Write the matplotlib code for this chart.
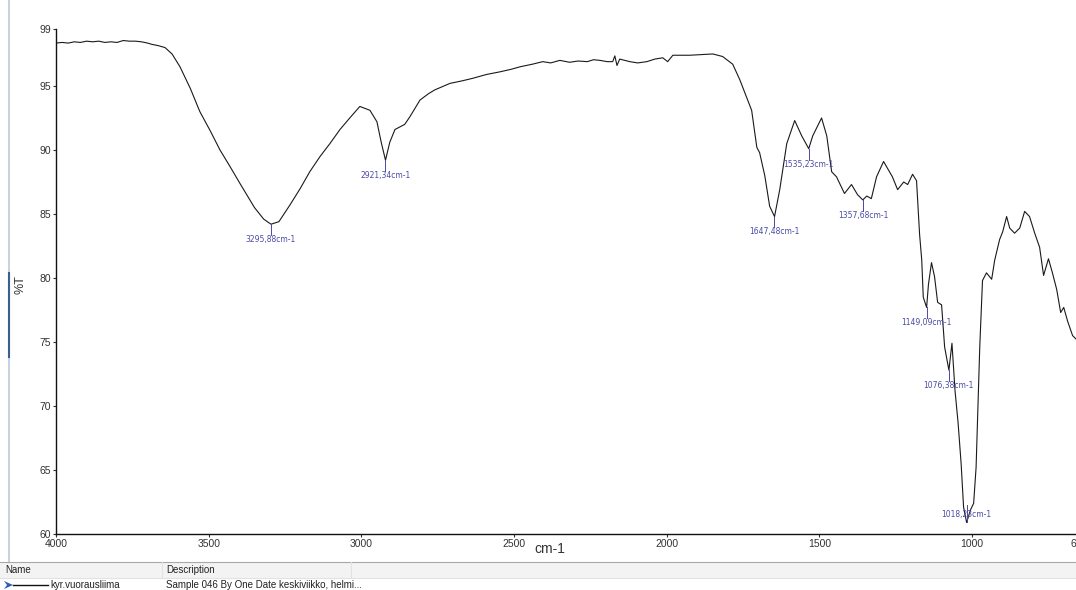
import matplotlib
matplotlib.use("Agg")
import matplotlib.pyplot as plt
from matplotlib.lines import Line2D
from matplotlib.patches import Rectangle, Polygon

# ---------------- data ----------------
wavenumber = [4000, 3980, 3960, 3940, 3920, 3900, 3880, 3860, 3840, 3820, 3800, 3780,
              3760, 3740, 3720, 3700, 3686, 3665, 3643, 3620, 3594, 3560, 3529, 3495,
              3463, 3430, 3398, 3350, 3320, 3296, 3270, 3234, 3200, 3169, 3135, 3103,
              3070, 3038, 3005, 2972, 2949, 2935, 2921, 2907, 2890, 2874, 2858, 2841,
              2808, 2780, 2759, 2710, 2670, 2635, 2590, 2547, 2510, 2480, 2440, 2406,
              2380, 2350, 2318, 2290, 2260, 2240, 2219, 2195, 2177, 2170, 2163, 2154,
              2121, 2095, 2065, 2039, 2013, 1997, 1980, 1925, 1849, 1817, 1784, 1761,
              1735, 1722, 1705, 1696, 1679, 1663, 1647, 1630, 1607, 1581, 1558, 1535,
              1522, 1493, 1476, 1460, 1444, 1418, 1395, 1375, 1358, 1345, 1330, 1313,
              1290, 1261, 1244, 1224, 1211, 1195, 1182, 1172, 1165, 1160, 1149, 1143,
              1133, 1123, 1113, 1100, 1090, 1076, 1066, 1056, 1046, 1036, 1028, 1018,
              1005, 995, 987, 975, 966, 953, 936, 926, 910, 900, 887, 877,
              861, 844, 828, 812, 795, 779, 766, 750, 737, 723, 710, 700,
              687, 671, 650]
transmittance = [98.35, 98.4, 98.35, 98.45, 98.4, 98.5, 98.45, 98.5, 98.4, 98.45, 98.4, 98.55,
                 98.5, 98.5, 98.45, 98.35, 98.25, 98.15, 98.0, 97.5, 96.5, 94.8, 93.0, 91.5,
                 90.0, 88.7, 87.4, 85.5, 84.6, 84.2, 84.4, 85.7, 87.0, 88.3, 89.5, 90.5,
                 91.6, 92.5, 93.4, 93.1, 92.2, 90.6, 89.2, 90.6, 91.6, 91.8, 92.0, 92.6,
                 93.9, 94.4, 94.7, 95.2, 95.4, 95.6, 95.9, 96.1, 96.3, 96.5, 96.7, 96.9,
                 96.8, 97.0, 96.85, 96.95, 96.9, 97.05, 97.0, 96.9, 96.9, 97.35, 96.6, 97.1,
                 96.9, 96.8, 96.9, 97.1, 97.2, 96.9, 97.4, 97.4, 97.5, 97.3, 96.7, 95.5,
                 93.9, 93.1, 90.2, 89.8, 88.0, 85.6, 84.8, 86.9, 90.5, 92.3, 91.1, 90.1,
                 91.1, 92.5, 91.1, 88.3, 87.9, 86.6, 87.3, 86.5, 86.1, 86.4, 86.2, 87.9,
                 89.1, 87.9, 86.9, 87.5, 87.3, 88.1, 87.6, 83.4, 81.4, 78.5, 77.7, 79.5,
                 81.2, 80.1, 78.1, 77.9, 74.6, 72.8, 74.9, 71.2, 68.7, 65.5, 62.1, 60.9,
                 61.9, 62.4, 65.2, 74.6, 79.8, 80.4, 79.9, 81.4, 83.0, 83.6, 84.8, 83.9,
                 83.5, 83.9, 85.2, 84.8, 83.5, 82.4, 80.2, 81.5, 80.4, 79.1, 77.3, 77.7,
                 76.6, 75.5, 75.0]

peak_wn = [3295.88, 2921.34, 1647.48, 1535.23, 1357.68, 1149.09, 1076.38, 1018.23]
peak_T = [84.2, 89.2, 84.8, 90.1, 86.1, 77.7, 72.8, 60.9]
peak_labels = ["3295,88cm-1", "2921,34cm-1", "1647,48cm-1", "1535,23cm-1",
               "1357,68cm-1", "1149,09cm-1", "1076,38cm-1", "1018,23cm-1"]

x_ticks = [4000, 3500, 3000, 2500, 2000, 1500, 1000, 650]
x_tick_labels = ["4000", "3500", "3000", "2500", "2000", "1500", "1000", "650"]
y_ticks = [60, 65, 70, 75, 80, 85, 90, 95, 99.45]
y_tick_labels = ["60", "65", "70", "75", "80", "85", "90", "95", "99"]

# ---------------- figure ----------------
W, H = 1076, 590
fig = plt.figure(figsize=(W / 100, H / 100), dpi=100)
fig.patch.set_facecolor("white")

def fx(px):
    return px / W

def fy(py):
    return 1 - py / H

ax = fig.add_axes([fx(56), fy(534), (1079 - 56) / W, (534 - 29) / H])
ax.plot(wavenumber, transmittance, color="#1a1a1a", lw=0.8)
ax.set_xlim(4000, 650)
ax.set_ylim(60, 99.45)
ax.set_xticks(x_ticks)
ax.set_xticklabels(x_tick_labels)
ax.set_yticks(y_ticks)
ax.set_yticklabels(y_tick_labels)
for s in ("top", "right"):
    ax.spines[s].set_visible(False)
for s in ("left", "bottom"):
    ax.spines[s].set_linewidth(1.0)
    ax.spines[s].set_color("#111111")
ax.tick_params(axis="both", direction="out", length=2.5, width=0.8, color="#333333",
               labelsize=7.5, labelcolor="#333333", pad=1)
for lab in ax.get_xticklabels() + ax.get_yticklabels():
    lab.set_fontfamily("Liberation Sans")

# peak markers
label_color = "#4a4aa8"
for wn, t, lab in zip(peak_wn, peak_T, peak_labels):
    if t < 62:
        ax.plot([wn, wn], [t, t + 1.4], color=label_color, lw=0.7)
        ax.text(wn, t + 0.6, lab, color=label_color, fontsize=5.5, ha="center",
                va="center", family="DejaVu Sans")
    else:
        ax.plot([wn, wn], [t, t - 0.85], color=label_color, lw=0.7)
        ax.text(wn, t - 0.85, lab, color=label_color, fontsize=5.5, ha="center",
                va="top", family="DejaVu Sans")

# axis titles
fig.text(fx(550), fy(549), "cm-1", fontsize=10, color="#333333", ha="center",
         va="center", family="Liberation Sans")
fig.text(fx(20), fy(285), "%T", fontsize=9, color="#333333", ha="center",
         va="center", rotation=90, family="Liberation Sans")

# window left border
fig.add_artist(Line2D([fx(9), fx(9)], [fy(0), fy(562)], color="#c9d3e0", lw=1.5))
fig.add_artist(Line2D([fx(9), fx(9)], [fy(273), fy(357)], color="#3d5f8f", lw=1.5))

# bottom list panel
fig.add_artist(Rectangle((0, fy(578)), 1, (578 - 562) / H, transform=fig.transFigure,
                         facecolor="#f3f3f3", edgecolor="none"))
fig.add_artist(Line2D([0, 1], [fy(562), fy(562)], color="#a8a8a8", lw=0.8))
fig.add_artist(Line2D([0, 1], [fy(578), fy(578)], color="#e2e2e2", lw=0.8))
fig.add_artist(Line2D([fx(162), fx(162)], [fy(562), fy(578)], color="#e2e2e2", lw=0.8))
fig.add_artist(Line2D([fx(351), fx(351)], [fy(562), fy(578)], color="#e2e2e2", lw=0.8))
fig.text(fx(5), fy(570), "Name", fontsize=7, color="#222222", va="center",
         family="Liberation Sans")
fig.text(fx(166), fy(570), "Description", fontsize=7, color="#222222", va="center",
         family="Liberation Sans")
fig.add_artist(Polygon([[fx(4), fy(581)], [fx(13), fy(585)], [fx(4), fy(589)],
                        [fx(7), fy(585)]], closed=True, transform=fig.transFigure,
                       facecolor="#2f5fb5", edgecolor="none"))
fig.add_artist(Line2D([fx(13), fx(48)], [fy(585), fy(585)], color="#111111", lw=1.0))
fig.text(fx(50), fy(585), "kyr.vuorausliima", fontsize=7, color="#222222",
         va="center", family="Liberation Sans")
fig.text(fx(166), fy(585), "Sample 046 By One Date keskiviikko, helmi...", fontsize=7,
         color="#222222", va="center", family="Liberation Sans")

fig.savefig("out.png", dpi=100)
